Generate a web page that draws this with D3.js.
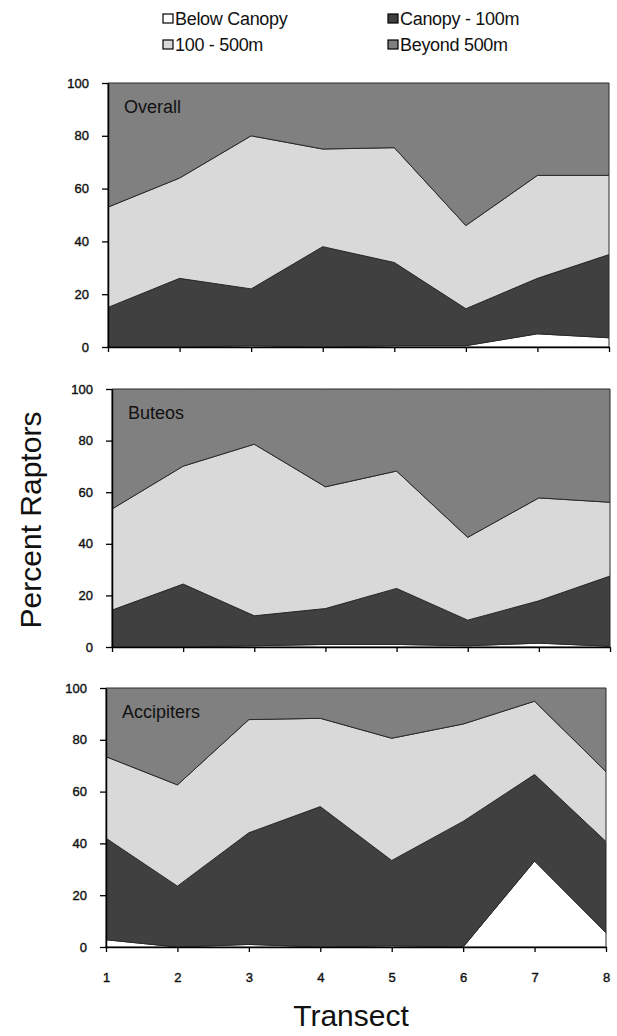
<!DOCTYPE html>
<meta charset="utf-8" />
<script src="https://d3js.org/d3.v7.min.js"></script>
<body style="margin:0;background:#fff">
  <div id="chart"></div>
  <script>
    // transect numbers and distance zones
    const transects = [1, 2, 3, 4, 5, 6, 7, 8];
    const zones = ["Below Canopy", "Canopy - 100m", "100 - 500m", "Beyond 500m"];
    const zoneColors = ["#ffffff", "#404040", "#d9d9d9", "#808080"];
    const yTicks = [0, 20, 40, 60, 80, 100];

    // percent of raptors per zone
    const overallBelow = [0, 0, 0.5, 0, 0.5, 0.5, 5, 3.5];
    const overallCanopy = [15, 26, 21.5, 38, 31.5, 14, 21, 31.5];
    const overallMid = [38, 38, 58, 37, 43.5, 31.5, 39, 30];
    const overallBeyond = [47, 36, 20, 25, 24.5, 54, 35, 35];

    const buteoBelow = [0, 0, 0.5, 1, 1, 0.5, 1.5, 0.3];
    const buteoCanopy = [14.3, 24.4, 11.6, 13.9, 21.7, 9.9, 16.4, 27.2];
    const buteoMid = [39.2, 45.7, 66.5, 47.2, 45.5, 32.1, 39.9, 28.6];
    const buteoBeyond = [46.5, 29.9, 21.4, 37.9, 31.8, 57.5, 42.2, 43.9];

    const accipBelow = [2.8, 0, 1, 0, 0.5, 0, 33.2, 5.5];
    const accipCanopy = [39.2, 23.5, 43.1, 54.2, 32.9, 48.5, 33.4, 35.2];
    const accipMid = [31.5, 39.1, 43.7, 34.1, 47.2, 37.6, 28.3, 27];
    const accipBeyond = [26.5, 37.4, 12.2, 11.7, 19.4, 13.9, 5.1, 32.3];

    const font = "'Liberation Sans', Arial, sans-serif";

    const panels = [
      { title: "Overall", series: [overallBelow, overallCanopy, overallMid, overallBeyond],
        left: 108, right: 609, top: 83, bottom: 347, xLabels: false },
      { title: "Buteos", series: [buteoBelow, buteoCanopy, buteoMid, buteoBeyond],
        left: 112, right: 610, top: 389, bottom: 647, xLabels: false },
      { title: "Accipiters", series: [accipBelow, accipCanopy, accipMid, accipBeyond],
        left: 106, right: 606, top: 688, bottom: 947, xLabels: true },
    ];

    const svg = d3
      .select("#chart")
      .append("svg")
      .attr("width", 617)
      .attr("height", 1036)
      .style("font-family", font);

    panels.forEach(function (p) {
      const x = d3.scaleLinear().domain([1, 8]).range([p.left, p.right]);
      const y = d3.scaleLinear().domain([0, 100]).range([p.bottom, p.top]);

      // one row per transect
      const rows = transects.map(function (t, i) {
        const row = { t: t };
        zones.forEach(function (z, k) {
          row[z] = p.series[k][i];
        });
        return row;
      });

      const stacked = d3.stack().keys(zones)(rows);

      const area = d3
        .area()
        .x(function (d) { return x(d.data.t); })
        .y0(function (d) { return y(d[0]); })
        .y1(function (d) { return y(d[1]); });

      const g = svg.append("g");

      g.selectAll("path.layer")
        .data(stacked)
        .enter()
        .append("path")
        .attr("class", "layer")
        .attr("d", area)
        .attr("fill", function (d, i) { return zoneColors[i]; })
        .attr("stroke", "#2a2a2a")
        .attr("stroke-width", 1)
        .attr("stroke-linejoin", "round");

      // y axis
      const yAxis = g
        .append("g")
        .attr("transform", "translate(" + p.left + ",0)")
        .call(d3.axisLeft(y).tickValues(yTicks).tickSize(6).tickSizeOuter(0).tickPadding(13));
      // x axis
      const xAxis = g
        .append("g")
        .attr("transform", "translate(0," + p.bottom + ")")
        .call(
          d3.axisBottom(x).tickValues(transects).tickSize(5).tickSizeOuter(0).tickPadding(21)
            .tickFormat(p.xLabels ? d3.format("d") : function () { return ""; })
        );

      [yAxis, xAxis].forEach(function (a) {
        a.select(".domain").attr("stroke", "#000").attr("stroke-width", 1.5);
        a.selectAll(".tick line").attr("stroke", "#000").attr("stroke-width", 1.3);
        a.selectAll("text")
          .attr("fill", "#111")
          .attr("stroke", "#111")
          .attr("stroke-width", 0.4)
          .style("font-size", "13px")
          .style("font-family", font);
      });

      g.append("text")
        .attr("x", p.left + 16)
        .attr("y", p.top + 30)
        .style("font-size", "18px")
        .attr("fill", "#111")
        .text(p.title);
    });

    // legend, two columns
    const legend = svg
      .selectAll("g.legend")
      .data(zones)
      .enter()
      .append("g")
      .attr("class", "legend")
      .attr("transform", function (d, i) {
        const col = i % 2 === 0 ? 0 : 1;
        const row = i < 2 ? 0 : 1;
        return "translate(" + (163 + col * 225) + "," + (19 + row * 26) + ")";
      });
    legend
      .append("rect")
      .attr("x", 0)
      .attr("y", -5)
      .attr("width", 10)
      .attr("height", 9)
      .attr("fill", function (d) { return zoneColors[zones.indexOf(d)]; })
      .attr("stroke", "#000")
      .attr("stroke-width", 1.2);
    legend
      .append("text")
      .attr("x", 12)
      .attr("y", 6)
      .style("font-size", "18px")
      .style("letter-spacing", "-0.3px")
      .attr("fill", "#111")
      .text(function (d) { return d; });

    // axis titles
    svg
      .append("text")
      .attr("transform", "translate(41,520) rotate(-90)")
      .attr("text-anchor", "middle")
      .style("font-size", "30px")
      .attr("fill", "#111")
      .text("Percent Raptors");

    svg
      .append("text")
      .attr("x", 351)
      .attr("y", 1026)
      .attr("text-anchor", "middle")
      .style("font-size", "30px")
      .attr("fill", "#111")
      .text("Transect");
  </script>
</body>
